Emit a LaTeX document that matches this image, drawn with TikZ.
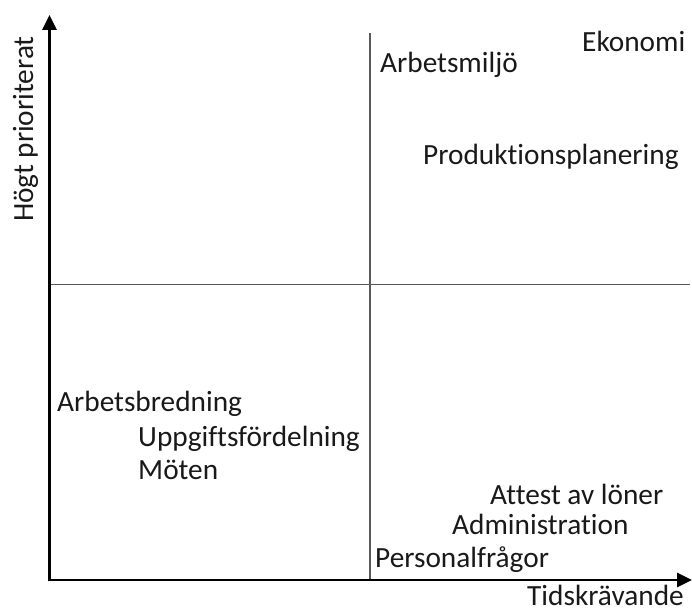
\documentclass[tikz,border=0pt]{standalone}
\usepackage{fontspec}
\setmainfont{Carlito}[Ligatures={NoCommon}]
\usetikzlibrary{arrows.meta}
\begin{document}
\begin{tikzpicture}[x=1pt,y=1pt,
  lbl/.style={font=\fontsize{29.3}{34}\selectfont, inner sep=0pt, anchor=base west, text=black!90},
  axis/.style={line width=2.6pt, -{Triangle[length=15pt,width=14pt]}},
  divider/.style={line width=1.6pt, draw=black!65}]
\useasboundingbox (0,0) rectangle (692,612);
\coordinate (O) at (49.5,32);
\coordinate (Ytip) at (49.5,597);
\coordinate (Xtip) at (692,32);
\coordinate (Vtop) at (370,579);
\coordinate (Vbot) at (370,32);
\coordinate (Hl) at (49.5,327.3);
\coordinate (Hr) at (690,327.3);
\draw[divider] (Vbot) -- (Vtop);
\draw[divider] (Hl) -- (Hr);
\draw[axis] ([yshift=-1.3pt]O) -- (Ytip);
\draw[axis] ([xshift=-1.3pt]O) -- (Xtip);
\node[lbl] (ek) at (582,560) {Ekonomi};
\node[lbl] (am) at (380,539) {Arbetsmiljö};
\node[lbl] (pp) at (423,447) {Produktionsplanering};
\node[lbl] (ab) at (57,200) {Arbetsbredning};
\node[lbl] (uf) at (138,165) {Uppgiftsfördelning};
\node[lbl] (mo) at (138,132) {Möten};
\node[lbl] (at) at (490,107) {Attest av löner};
\node[lbl] (ad) at (452,77) {Administration};
\node[lbl] (pf) at (375,45) {Personalfrågor};
\node[lbl] (xl) at (527,7) {Tidskrävande};
\node[lbl, rotate=90] (yl) at (33,390) {Högt prioriterat};
\end{tikzpicture}
\end{document}
